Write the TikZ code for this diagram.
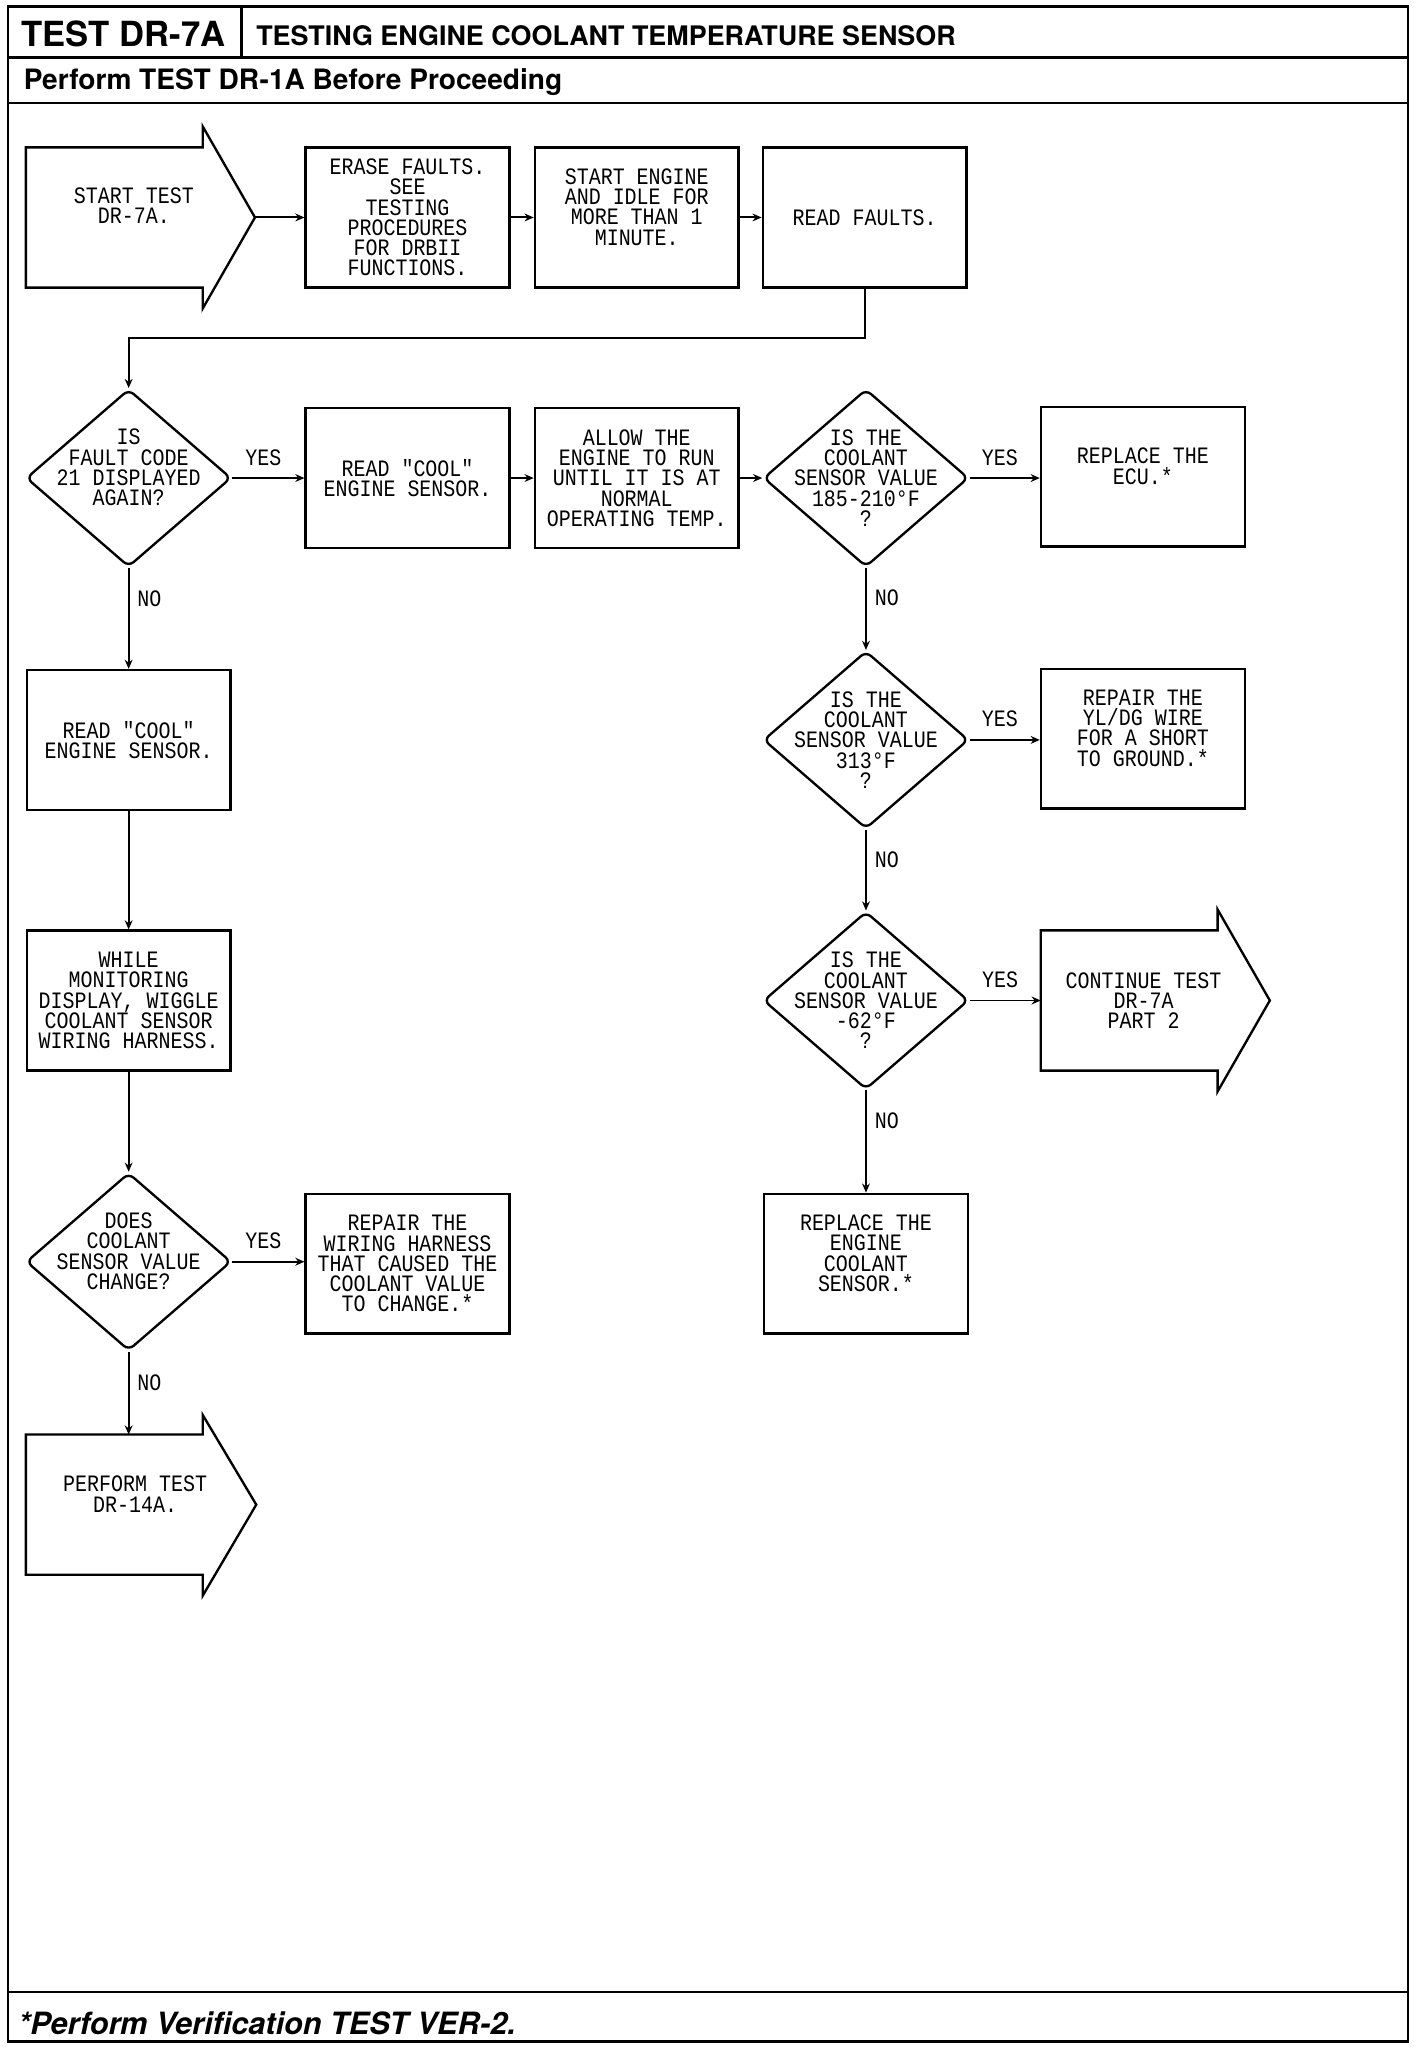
\documentclass[tikz,border=0pt]{standalone}
\usepackage{fontspec}
\usetikzlibrary{shapes.geometric,arrows.meta}
\newfontfamily\plotfont[FakeStretch=0.85]{Liberation Mono}
\newfontfamily\heros{TeX Gyre Heros}
\begin{document}
\begin{tikzpicture}[x=1pt,y=-1pt,
  txt/.style={font=\plotfont\fontsize{18}{15.5}\selectfont, align=center, inner sep=0pt},
  box/.style={draw, line width=1.8pt, minimum width=156pt, minimum height=107pt, inner sep=0pt, txt},
  ebox/.style={draw, line width=1.8pt, minimum width=156pt, minimum height=107pt, inner sep=0pt},
  body/.style={minimum width=135pt, minimum height=107pt, inner sep=0pt},
  dia/.style={diamond, draw, line width=1.8pt, minimum width=157pt, minimum height=136pt, inner sep=0pt, rounded corners=5pt},
  arr/.style={line width=1.5pt, -{Stealth[length=7pt,width=6pt]}},
  outline/.style={line width=1.8pt, line join=miter},
  frame/.style={line width=1.8pt},
  lab/.style={txt},
  hdr/.style={inner sep=0pt, anchor=west}]
\useasboundingbox (0,0) rectangle (1090,1568);
% frame and header
\draw[frame] (6,5) rectangle (1078,1563);
\draw[frame] (6,44) -- (1078,44);
\draw[frame] (185,5) -- (185,44);
\draw[frame] (6,79) -- (1078,79);
\draw[frame] (6,1525) -- (1078,1525);
\node[hdr, font=\heros\bfseries\fontsize{26.5}{27}\selectfont] (htest) at (16,26) {TEST DR-7A};
\node[hdr, font=\heros\bfseries\fontsize{20.6}{21}\selectfont] (htitle) at (196,27) {TESTING ENGINE COOLANT TEMPERATURE SENSOR};
\node[hdr, font=\heros\bfseries\fontsize{21.5}{22}\selectfont] (hsub) at (18,63) {Perform TEST DR-1A Before Proceeding};
\node[hdr, font=\heros\bfseries\itshape\fontsize{23.5}{24}\selectfont] (hfoot) at (14,1549) {*Perform Verification TEST VER-2.};

% row 1
\node[body] (start) at (87.5,166.5) {};
\coordinate (stip) at ([xshift=40pt]start.east);
\draw[outline] (start.north west) -- (start.north east) -- ([yshift=16pt]start.north east) -- (stip) -- ([yshift=-16pt]start.south east) -- (start.south east) -- (start.south west) -- cycle;
\node[txt] (startt) at ([xshift=15pt,yshift=9pt]start.center) {START TEST\\DR-7A.};
\node[box] (erase) at (312,166.5) {ERASE FAULTS.\\SEE\\TESTING\\PROCEDURES\\FOR DRBII\\FUNCTIONS.};
\node[ebox] (engine) at (487.5,166.5) {};
\node[txt] (enginet) at ([yshift=8pt]engine.center) {START ENGINE\\AND IDLE FOR\\MORE THAN 1\\MINUTE.};
\node[box] (readf) at (662,166.5) {READ FAULTS.};
\draw[arr] (stip) -- (erase.west);
\draw[arr] (erase.east) -- (engine.west);
\draw[arr] (engine.east) -- (readf.west);

% row 2
\node[dia] (d1) at (98.5,366) {};
\node[txt] (d1t) at ([yshift=8pt]d1.center) {IS\\FAULT CODE\\21 DISPLAYED\\AGAIN?};
\node[box] (cool2) at (312,366) {READ "COOL"\\ENGINE SENSOR.};
\node[box] (allow) at (487.5,366) {ALLOW THE\\ENGINE TO RUN\\UNTIL IT IS AT\\NORMAL\\OPERATING TEMP.};
\node[dia] (d2) at (663,366) {};
\node[txt] (d2t) at (d2.center) {IS THE\\COOLANT\\SENSOR VALUE\\185-210°F\\?};
\node[ebox] (ecu) at (875,365) {};
\node[txt] (ecut) at ([yshift=8pt]ecu.center) {REPLACE THE\\ECU.*};
\draw[arr] (readf.south) -- ++(0,38) -| (d1.north);
\draw[arr] (d1.east) -- node[lab, pos=0.43, above=9pt] {YES} (cool2.west);
\draw[arr] (cool2.east) -- (allow.west);
\draw[arr] (allow.east) -- (d2.west);
\draw[arr] (d2.east) -- node[lab, pos=0.43, above=9pt] {YES} (d2.east -| ecu.west);

% row 3
\node[box] (cool1) at (98.5,566.5) {READ "COOL"\\ENGINE SENSOR.};
\node[dia] (d3) at (663,566.5) {};
\node[txt] (d3t) at (d3.center) {IS THE\\COOLANT\\SENSOR VALUE\\313°F\\?};
\node[ebox] (yl) at (875,565.5) {};
\node[txt] (ylt) at ([yshift=8pt]yl.center) {REPAIR THE\\YL/DG WIRE\\FOR A SHORT\\TO GROUND.*};
\draw[arr] (d1.south) -- node[lab, pos=0.3, right=6pt] {NO} (cool1.north);
\draw[arr] (d2.south) -- node[lab, pos=0.36, right=6pt] {NO} (d3.north);
\draw[arr] (d3.east) -- node[lab, pos=0.43, above=9pt] {YES} (d3.east -| yl.west);

% row 4
\node[box] (wiggle) at (98.5,766) {WHILE\\MONITORING\\DISPLAY, WIGGLE\\COOLANT SENSOR\\WIRING HARNESS.};
\node[dia] (d4) at (663,766) {};
\node[txt] (d4t) at (d4.center) {IS THE\\COOLANT\\SENSOR VALUE\\-62°F\\?};
\node[body] (cont) at (864.5,766) {};
\coordinate (ctip) at ([xshift=40pt]cont.east);
\draw[outline] (cont.north west) -- (cont.north east) -- ([yshift=16pt]cont.north east) -- (ctip) -- ([yshift=-16pt]cont.south east) -- (cont.south east) -- (cont.south west) -- cycle;
\node[txt] (contt) at ([xshift=11pt]cont.center) {CONTINUE TEST\\DR-7A\\PART 2};
\draw[arr] (cool1.south) -- (wiggle.north);
\draw[arr] (d3.south) -- node[lab, pos=0.37, right=6pt] {NO} (d4.north);
\draw[arr] (d4.east) -- node[lab, pos=0.43, above=9pt] {YES} (cont.west);

% row 5
\node[dia] (d5) at (98.5,966) {};
\node[txt] (d5t) at ([yshift=8pt]d5.center) {DOES\\COOLANT\\SENSOR VALUE\\CHANGE?};
\node[box] (wiring) at (312,967.5) {REPAIR THE\\WIRING HARNESS\\THAT CAUSED THE\\COOLANT VALUE\\TO CHANGE.*};
\node[ebox] (repl) at (663,967.5) {};
\node[txt] (replt) at ([yshift=8pt]repl.center) {REPLACE THE\\ENGINE\\COOLANT\\SENSOR.*};
\draw[arr] (wiggle.south) -- (d5.north);
\draw[arr] (d5.east) -- node[lab, pos=0.43, above=9pt] {YES} (d5.east -| wiring.west);
\draw[arr] (d4.south) -- node[lab, pos=0.3, right=6pt] {NO} (repl.north);

% row 6
\node[body] (perf) at (87.5,1152) {};
\coordinate (ptip) at ([xshift=41pt]perf.east);
\draw[outline] (perf.north west) -- (perf.north east) -- ([yshift=15pt]perf.north east) -- (ptip) -- ([yshift=-16pt]perf.south east) -- (perf.south east) -- (perf.south west) -- cycle;
\node[txt] (perft) at ([xshift=16pt,yshift=8pt]perf.center) {PERFORM TEST\\DR-14A.};
\draw[arr] (d5.south) -- node[lab, pos=0.37, right=6pt] {NO} (d5.south |- perf.north);
\end{tikzpicture}
\end{document}
